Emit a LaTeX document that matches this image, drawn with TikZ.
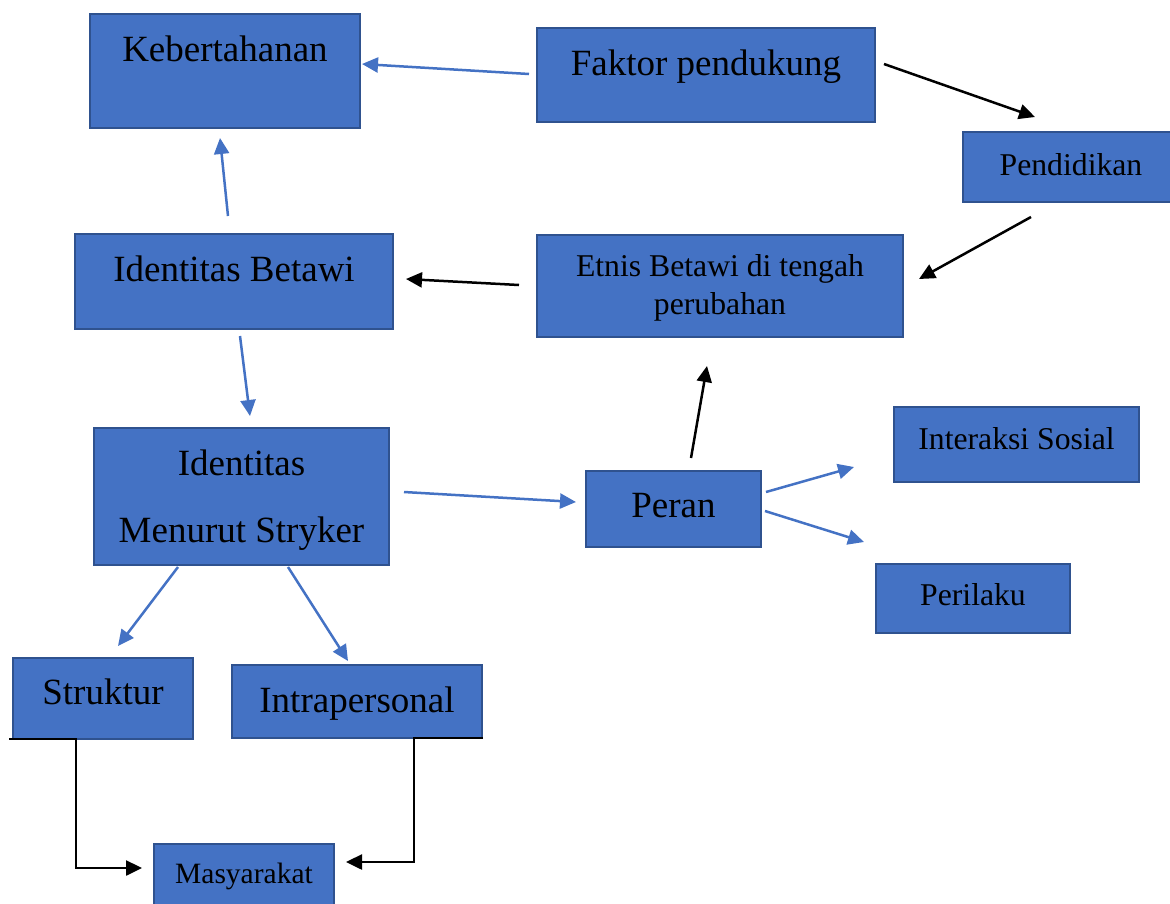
\documentclass[tikz,border=0pt]{standalone}
\usepackage{fontspec}
\setmainfont{Liberation Serif}
\usetikzlibrary{arrows.meta}
\definecolor{boxfill}{HTML}{4472C4}
\definecolor{boxline}{HTML}{2F528F}
\definecolor{arrblue}{HTML}{4472C4}
\begin{document}
\begin{tikzpicture}[x=1pt,y=-1pt,
  box/.style={draw=boxline, fill=boxfill, line width=2pt, inner sep=0pt, text=black},
  big/.style={font=\fontsize{37}{44}\selectfont, text height=27pt},
  mid/.style={font=\fontsize{31.7}{38}\selectfont, text height=23pt},
  barrow/.style={draw=arrblue, line width=2.5pt, -{Triangle[length=16pt,width=15pt]}},
  karrow/.style={draw=black, line width=2.5pt, -{Triangle[length=16pt,width=15pt]}}]
\useasboundingbox (0,0) rectangle (1170,903);

\node[box,big,minimum width=270pt,minimum height=114pt,text depth=47pt] (keb) at (225,71) {Kebertahanan};
\node[box,big,minimum width=338pt,minimum height=94pt,text depth=27pt] (fak) at (706,75) {Faktor pendukung};
\node[box,mid,minimum width=216pt,minimum height=70pt,text depth=7pt] (pend) at (1071,167) {Pendidikan};
\node[box,font=\fontsize{31.7}{38}\selectfont,align=center,minimum width=366pt,minimum height=102pt] (etn) at (720,286) {\rule{0pt}{26.7pt}Etnis Betawi di tengah\\perubahan};
\node[box,big,minimum width=318pt,minimum height=95pt,text depth=27pt] (ib) at (234,281.5) {Identitas Betawi};
\node[box,font=\fontsize{37}{67}\selectfont,align=center,minimum width=295pt,minimum height=137pt] (str) at (241.5,496.5) {\rule{0pt}{32pt}Identitas\\Menurut Stryker};
\node[box,big,minimum width=175pt,minimum height=76pt,text depth=11pt] (per) at (673.5,509) {Peran};
\node[box,mid,minimum width=245pt,minimum height=75pt,text depth=14pt] (inter) at (1016.5,444.5) {Interaksi Sosial};
\node[box,mid,minimum width=194pt,minimum height=69pt,text depth=10pt] (peri) at (973,598.5) {Perilaku};
\node[box,big,minimum width=180pt,minimum height=81pt,text depth=16pt] (struk) at (103,698.5) {Struktur};
\node[box,big,minimum width=250pt,minimum height=73pt,text depth=6pt] (intra) at (357,701.5) {Intrapersonal};
\node[box,font=\fontsize{29.5}{35}\selectfont,text height=21pt,text depth=14pt,minimum width=180pt,minimum height=71pt] (mas) at (244,879.5) {Masyarakat};

\draw[barrow] ([xshift=-7pt,yshift=1pt]fak.west) -- ([xshift=1pt,yshift=7pt]keb.east);
\draw[barrow] ([xshift=-6pt,yshift=17pt]ib.north) -- ([xshift=-5pt,yshift=-9pt]keb.south);
\draw[barrow] ([xshift=6pt,yshift=-6pt]ib.south) -- ([xshift=8.5pt,yshift=11pt]str.north);
\draw[barrow] ([xshift=-63.5pt,yshift=-1pt]str.south) -- ([xshift=15pt,yshift=11pt]struk.north);
\draw[barrow] ([xshift=46.5pt,yshift=-1pt]str.south) -- ([xshift=-9pt,yshift=3pt]intra.north);
\draw[barrow] ([xshift=14pt,yshift=4.5pt]str.east) -- ([xshift=-9pt,yshift=7pt]per.west);
\draw[barrow] ([xshift=4pt,yshift=17pt]per.east) -- ([xshift=-39pt,yshift=-22.5pt]inter.west);
\draw[barrow] ([xshift=3pt,yshift=-2pt]per.east) -- ([xshift=-11pt,yshift=21pt]peri.north west);
\draw[karrow] ([xshift=8pt,yshift=11pt]fak.east) -- ([xshift=-36pt,yshift=14pt]pend.north);
\draw[karrow] ([xshift=-40pt,yshift=-14pt]pend.south) -- ([xshift=15pt,yshift=7pt]etn.east);
\draw[karrow] ([xshift=-17pt,yshift=1pt]etn.west) -- ([xshift=12pt,yshift=2.5pt]ib.east);
\draw[karrow] ([xshift=17.5pt,yshift=12pt]per.north) -- ([xshift=-13pt,yshift=-28pt]etn.south);

\coordinate (sm) at (142,868);
\coordinate (im) at (346,862);
\draw[karrow] ([xshift=-3pt,yshift=1pt]struk.south west) -- ++(67,0) |- (sm);
\draw[karrow] ([yshift=1pt]intra.south east) -- ++(-69,0) |- (im);
\end{tikzpicture}
\end{document}
